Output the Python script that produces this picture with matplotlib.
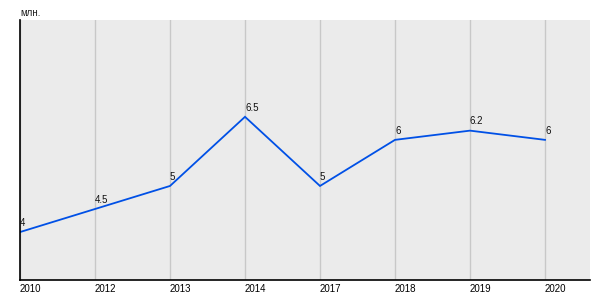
import matplotlib
matplotlib.use('Agg')
import matplotlib.pyplot as plt

# data
years = ['2010', '2012', '2013', '2014', '2017', '2018', '2019', '2020']
values = [4, 4.5, 5, 6.5, 5, 6, 6.2, 6]
value_labels = ['4', '4.5', '5', '6.5', '5', '6', '6.2', '6']

plt.rcParams['font.family'] = ['Liberation Sans', 'DejaVu Sans']

fig = plt.figure(figsize=(6, 3), dpi=100)
ax = fig.add_axes([20/600, 20/300, 570/600, 260/300])
ax.set_facecolor('#EBEBEB')

x = list(range(len(years)))
ax.plot(x, values, color='#0050E6', linewidth=1.3, solid_joinstyle='miter')

for xi, v, lab in zip(x, values, value_labels):
    ax.annotate(lab, (xi, v), xytext=(0, 3), textcoords='offset points',
                fontsize=7, ha='left', va='bottom', color='#111111')

ax.set_xlim(0, 570/75)
ax.set_ylim(2.96, 8.6)
ax.set_xticks(x)
ax.set_xticklabels(years, fontsize=7)
ax.set_yticks([])
ax.tick_params(axis='x', length=0, pad=3)
for lab in ax.get_xticklabels():
    lab.set_horizontalalignment('left')

ax.grid(axis='x', color='#C8C8C8', linewidth=1)
ax.set_axisbelow(True)
for s in ['top', 'right']:
    ax.spines[s].set_visible(False)
ax.spines['left'].set_color('black')
ax.spines['bottom'].set_color('black')
ax.spines['left'].set_linewidth(1.2)
ax.spines['bottom'].set_linewidth(1.2)

fig.text(20/600, 1 - 13/300, 'млн.', fontsize=7, ha='left', va='center', color='#222222')

fig.savefig('out.png', dpi=100)
